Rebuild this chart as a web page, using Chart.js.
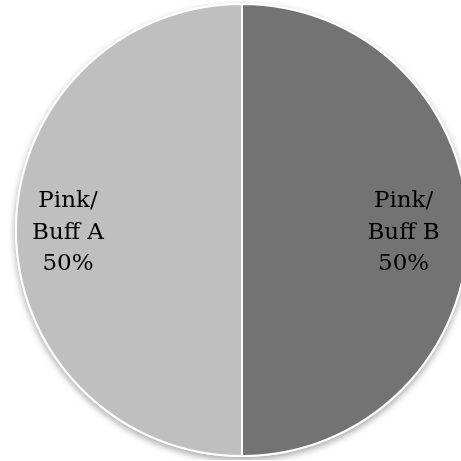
<!DOCTYPE html>
<html>
<head>
<meta charset="utf-8">
<script src="https://cdn.jsdelivr.net/npm/chart.js@4.4.1/dist/chart.umd.min.js"></script>
<style>
  html, body { margin: 0; padding: 0; background: #fff; overflow: hidden; }
  #wrap { width: 461px; height: 461px; overflow: hidden; position: relative; }
  canvas { position: absolute; left: 0; top: 0; }
</style>
</head>
<body>
<div id="wrap"><canvas id="pieChart" width="484" height="460"></canvas></div>
<script>
// Chart data
const categories = ['Pink/\nBuff A', 'Pink/\nBuff B'];
const shares = [50, 50];
const sliceColors = ['#bfbfbf', '#737373'];

// Shadow under the pie
const shadowPlugin = {
    id: 'pieShadow',
    beforeDatasetsDraw(chart) {
        const arc = chart.getDatasetMeta(0).data[0];
        if (!arc) return;
        const ctx = chart.ctx;
        ctx.save();
        ctx.shadowColor = 'rgba(0, 0, 0, 0.35)';
        ctx.shadowBlur = 7;
        ctx.shadowOffsetY = 3;
        ctx.fillStyle = '#ffffff';
        ctx.beginPath();
        ctx.arc(arc.x, arc.y, arc.outerRadius + 1, 0, Math.PI * 2);
        ctx.fill();
        ctx.restore();
    },
};

// Labels inside slices (distance from centre as a share of the radius)
const labelDist = [0.77, 0.715];
const labelPlugin = {
    id: 'sliceLabels',
    afterDatasetsDraw(chart) {
        const ctx = chart.ctx;
        const meta = chart.getDatasetMeta(0);
        const total = shares.reduce((a, b) => a + b, 0);
        ctx.save();
        ctx.font = '23px "DejaVu Serif", serif';
        ctx.fillStyle = '#000';
        ctx.textAlign = 'center';
        ctx.textBaseline = 'middle';
        meta.data.forEach((arc, i) => {
            const mid = (arc.startAngle + arc.endAngle) / 2;
            const dist = arc.outerRadius * labelDist[i];
            const cx = arc.x + Math.cos(mid) * dist;
            const cy = arc.y + Math.sin(mid) * dist + 3;
            const lines = categories[i].split('\n');
            lines.push(Math.round(shares[i] / total * 100) + '%');
            const lh = 31.5;
            lines.forEach((line, j) => {
                ctx.fillText(line, cx, cy + (j - (lines.length - 1) / 2) * lh);
            });
        });
        ctx.restore();
    },
};

const ctx = document.getElementById('pieChart').getContext('2d');
new Chart(ctx, {
    type: 'pie',
    data: {
        labels: categories,
        datasets: [
            {
                data: shares,
                backgroundColor: sliceColors,
                borderColor: '#ffffff',
                borderWidth: 2,
            },
        ],
    },
    options: {
        responsive: false,
        animation: false,
        rotation: 180,
        radius: 226,
        layout: { padding: 0 },
        plugins: {
            legend: { display: false },
            tooltip: { enabled: false },
        },
    },
    plugins: [shadowPlugin, labelPlugin],
});
</script>
</body>
</html>
